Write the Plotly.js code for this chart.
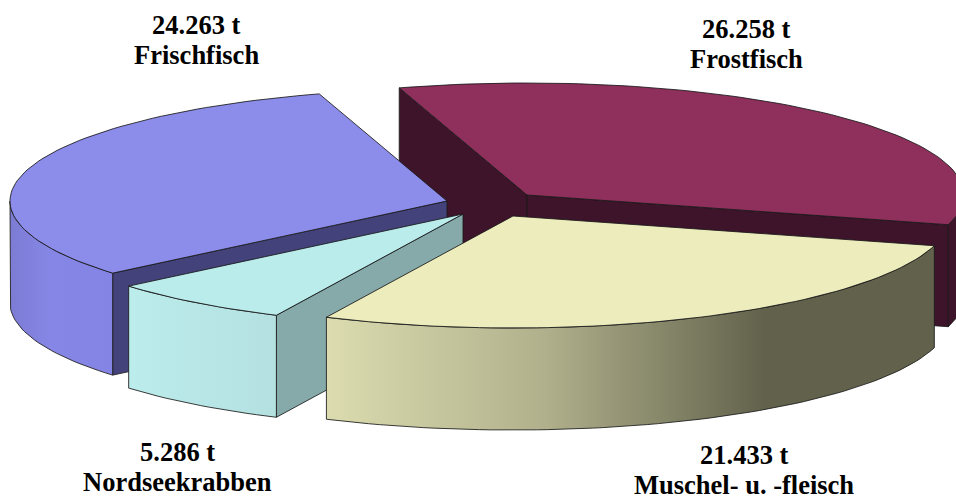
<!DOCTYPE html>
<html><head><meta charset="utf-8">
<script src="https://cdn.plot.ly/plotly-3.0.1.min.js"></script>
<style>html,body{margin:0;padding:0;background:#fff}#c{width:956px;height:500px}</style>
</head><body><div id="c"></div>
<script>
// data, in the order of the pie (clockwise from the start angle)
const categories = ['Frostfisch', 'Muschel- u. -fleisch', 'Nordseekrabben', 'Frischfisch'];
const tonnes = [26258, 21433, 5286, 24263];
const valueLabels = ['26.258 t', '21.433 t', '5.286 t', '24.263 t'];
const topColors = ['#8e2f5c', '#ececbc', '#baecec', '#8c8ceb'];
const edgeColors = ['#3e142b', '#5f5f49', '#86a9a9', '#44427a'];
const wallStops = [
  [[0, '#3e142b'], [1, '#3e142b']],
  [[0, '#dcdcb0'], [0.5, '#b0b08c'], [1, '#62624c']],
  [[0, '#bcecec'], [1, '#b4e0e0']],
  [[0, '#7c7cd4'], [0.4, '#8686e6'], [1, '#8484e4']]
];
// geometry of the projected 3D pie
const centers = [[527, 195], [513, 216], [463, 214], [447, 201]];
const wallRange = [[900, 960], [326, 765], [129, 277], [10, 113]];
const labelPos = [[746, 29], [744, 455], [177, 452], [196, 25]];
const drawOrder = [0, 3, 2, 1];
const RX = 437, RY = 112, DEPTH = 102, START = 107;

const rad = d => d * Math.PI / 180;
const total = tonnes.reduce((a, b) => a + b, 0);
const OUT = 'rgba(25,25,25,0.85)';
const traces = [];
function poly(xs, ys, fill, grad) {
  const t = {type: 'scatter', mode: 'lines', x: xs.concat(xs[0]), y: ys.concat(ys[0]), fill: 'toself',
    line: {color: OUT, width: 1}, hoverinfo: 'skip', showlegend: false};
  if (grad) t.fillgradient = grad; else t.fillcolor = fill;
  traces.push(t);
}
function arc(c, a, b, dy) {
  const n = Math.max(2, Math.ceil(Math.abs(a - b) / 1.5)), xs = [], ys = [];
  for (let i = 0; i <= n; i++) {
    const t = rad(a + (b - a) * i / n);
    xs.push(c[0] + RX * Math.cos(t));
    ys.push(c[1] - RY * Math.sin(t) + dy);
  }
  return {xs, ys};
}
// angular extent of each slice from its value
let ang = START;
const spans = tonnes.map(v => { const a = ang; ang -= v / total * 360; return [a, ang]; });
drawOrder.forEach(i => {
  const [a, b] = spans[i], c = centers[i];
  // straight inner walls that face the viewer
  [[a, a + 90], [b, b - 90]].forEach(([e, normal]) => {
    if (Math.sin(rad(normal)) < 0) {
      const x = c[0] + RX * Math.cos(rad(e)), y = c[1] - RY * Math.sin(rad(e));
      poly([c[0], x, x, c[0]], [c[1], y, y + DEPTH, c[1] + DEPTH], edgeColors[i]);
    }
  });
  // rim: only the part on the front half of the ellipse
  const hi = Math.min(a, 0), lo = Math.max(b, -180);
  if (hi > lo) {
    const top = arc(c, hi, lo, 0), bot = arc(c, lo, hi, DEPTH);
    poly(top.xs.concat(bot.xs), top.ys.concat(bot.ys), null, {
      type: 'horizontal', colorscale: wallStops[i], start: wallRange[i][0], stop: wallRange[i][1]});
  }
  // top face
  const t = arc(c, a, b, 0);
  poly([c[0]].concat(t.xs), [c[1]].concat(t.ys), topColors[i]);
});

const font = {family: 'Liberation Serif', size: 26.5, color: '#000'};
const annotations = [];
categories.forEach((name, i) => {
  annotations.push({x: labelPos[i][0], y: labelPos[i][1], xref: 'x', yref: 'y', showarrow: false,
    text: '<b>' + valueLabels[i] + '</b>', font, xanchor: 'center', yanchor: 'middle'});
  annotations.push({x: labelPos[i][0], y: labelPos[i][1] + 30, xref: 'x', yref: 'y', showarrow: false,
    text: '<b>' + name + '</b>', font, xanchor: 'center', yanchor: 'middle'});
});

Plotly.newPlot('c', traces, {
  width: 956, height: 500, margin: {l: 0, r: 0, t: 0, b: 0},
  paper_bgcolor: '#fff', plot_bgcolor: '#fff', showlegend: false,
  xaxis: {range: [0, 956], visible: false, fixedrange: true},
  yaxis: {range: [500, 0], visible: false, fixedrange: true},
  annotations
}, {displayModeBar: false, staticPlot: true});
</script></body></html>
